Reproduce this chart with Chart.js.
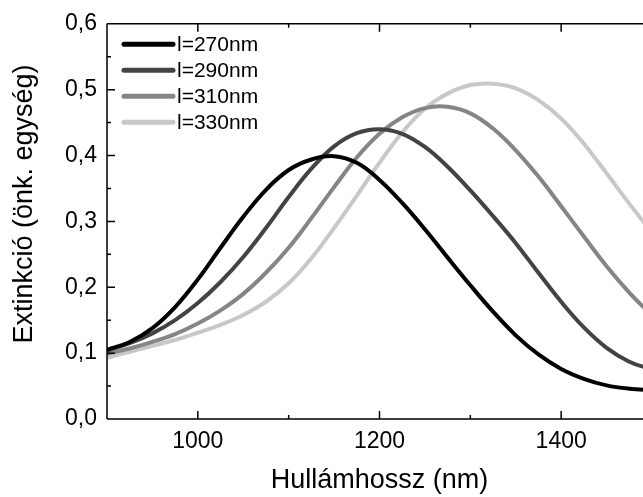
<!DOCTYPE html>
<html>
<head>
<meta charset="utf-8">
<script src="https://cdn.jsdelivr.net/npm/chart.js@4.4.1/dist/chart.umd.min.js"></script>
<style>
	html, body { margin: 0; padding: 0; overflow: hidden; background: #fff; }
	canvas { display: block; }
</style>
</head>
<body>
<canvas id="extinction_chart" width="652" height="497"></canvas>
<script>
'use strict';

// wavelength (nm), every 25 nm
var wavelengths = [900, 925, 950, 975, 1000, 1025, 1050, 1075, 1100, 1125, 1150, 1175, 1200,
	1225, 1250, 1275, 1300, 1325, 1350, 1375, 1400, 1425, 1450, 1475, 1500];

// extinction
var ext_270 = [0.105, 0.117, 0.138, 0.170, 0.212, 0.260, 0.307, 0.348, 0.378, 0.394, 0.399, 0.389, 0.363,
	0.328, 0.288, 0.245, 0.203, 0.163, 0.127, 0.098, 0.076, 0.061, 0.051, 0.046, 0.044];
var ext_290 = [0.104, 0.115, 0.130, 0.150, 0.176, 0.208, 0.246, 0.290, 0.337, 0.380, 0.414, 0.434, 0.440,
	0.433, 0.413, 0.383, 0.347, 0.308, 0.267, 0.222, 0.178, 0.139, 0.108, 0.087, 0.075];
var ext_310 = [0.099, 0.107, 0.117, 0.129, 0.145, 0.165, 0.190, 0.222, 0.260, 0.305, 0.352, 0.397, 0.433,
	0.458, 0.472, 0.474, 0.464, 0.441, 0.408, 0.368, 0.323, 0.277, 0.232, 0.192, 0.157];
var ext_330 = [0.093, 0.102, 0.111, 0.120, 0.131, 0.143, 0.158, 0.178, 0.206, 0.244, 0.290, 0.339, 0.389,
	0.435, 0.471, 0.494, 0.507, 0.509, 0.502, 0.484, 0.456, 0.418, 0.373, 0.327, 0.283];

var series_labels = ["l=270nm", "l=290nm", "l=310nm", "l=330nm"];

// axis ticks
var x_ticks = [1000, 1200, 1400];
var x_minor = [900, 1100, 1300];
var y_ticks = [0, 0.1, 0.2, 0.3, 0.4, 0.5, 0.6];
var y_minor = [0.05, 0.15, 0.25, 0.35, 0.45, 0.55];

(function(){

	var FONT = '"Liberation Sans", Arial, sans-serif';
	var Y_TITLE = 'Extinkció (önk. egység)';

	var to_points = function(values){
		return wavelengths.map(function(w, i){ return {x: w, y: values[i]}; });
	};

	var make_dataset = function(label, values, color){
		return {
			label: label,
			data: to_points(values),
			borderColor: color,
			borderWidth: 4,
			pointRadius: 0,
			fill: false,
			tension: 0.4
		};
	};

	// frame + inward ticks, like the origin plot
	var frame_ticks = {
		id: 'frame_ticks',
		afterDraw: function(chart){
			var ctx = chart.ctx, a = chart.chartArea;
			var xs = chart.scales.x, ys = chart.scales.y;
			ctx.save();
			ctx.strokeStyle = '#000';
			ctx.lineWidth = 1.5;
			ctx.beginPath();
			ctx.moveTo(a.left, a.top); ctx.lineTo(a.right, a.top);
			ctx.moveTo(a.left, a.top); ctx.lineTo(a.left, a.bottom);
			ctx.moveTo(a.left, a.bottom); ctx.lineTo(a.right, a.bottom);

			var xtick = function(v, len){
				var px = xs.getPixelForValue(v);
				ctx.moveTo(px, a.bottom); ctx.lineTo(px, a.bottom - len);
				ctx.moveTo(px, a.top); ctx.lineTo(px, a.top + len);
			};
			var ytick = function(v, len){
				var py = ys.getPixelForValue(v);
				ctx.moveTo(a.left, py); ctx.lineTo(a.left + len, py);
			};
			x_ticks.forEach(function(v){ xtick(v, 8); });
			x_minor.forEach(function(v){ xtick(v, 4); });
			y_ticks.forEach(function(v){ ytick(v, 8); });
			y_minor.forEach(function(v){ ytick(v, 4); });
			ctx.stroke();

			// y title, sits a bit above the middle of the axis in the original
			ctx.fillStyle = '#000';
			ctx.font = '27px ' + FONT;
			ctx.textAlign = 'center';
			ctx.textBaseline = 'middle';
			ctx.translate(25, 204);
			ctx.rotate(-Math.PI / 2);
			ctx.fillText(Y_TITLE, 0, 0);
			ctx.restore();
		}
	};

	// legend sitting inside the plot, top left
	var inside_legend = {
		id: 'inside_legend',
		afterDraw: function(chart){
			var ctx = chart.ctx, a = chart.chartArea;
			ctx.save();
			ctx.font = '21px ' + FONT;
			ctx.textBaseline = 'middle';
			ctx.lineCap = 'round';
			chart.data.datasets.forEach(function(ds, i){
				var y = a.top + 20.5 + i * 26;
				var x = a.left + 17;
				ctx.strokeStyle = ds.borderColor;
				ctx.lineWidth = 5;
				ctx.beginPath();
				ctx.moveTo(x, y); ctx.lineTo(x + 49, y);
				ctx.stroke();
				ctx.fillStyle = '#000';
				ctx.fillText(ds.label, x + 53, y + 1);
			});
			ctx.restore();
		}
	};

	var ctx = document.getElementById('extinction_chart').getContext('2d');

	new Chart(ctx, {
		type: 'line',
		data: {
			datasets: [
				make_dataset(series_labels[0], ext_270, '#000000'),
				make_dataset(series_labels[1], ext_290, '#434343'),
				make_dataset(series_labels[2], ext_310, '#858585'),
				make_dataset(series_labels[3], ext_330, '#c8c8c8')
			]
		},
		options: {
			responsive: false,
			animation: false,
			layout: { padding: { top: 18, right: 0, bottom: 0, left: 0 } },
			plugins: {
				legend: { display: false },
				tooltip: { enabled: false }
			},
			scales: {
				x: {
					type: 'linear',
					min: 900,
					max: 1500,
					grid: { display: false, drawTicks: false },
					border: { display: false },
					afterBuildTicks: function(scale){
						scale.ticks = x_ticks.map(function(v){ return {value: v}; });
					},
					afterFit: function(scale){ scale.height = 78; },
					ticks: {
						color: '#000',
						padding: 9,
						maxRotation: 0,
						font: { family: FONT, size: 23 },
						callback: function(v){ return String(v); }
					},
					title: {
						display: true,
						text: 'Hullámhossz (nm)',
						color: '#000',
						font: { family: FONT, size: 27, lineHeight: 1.2 },
						padding: { top: 0, bottom: 0 }
					}
				},
				y: {
					min: 0,
					max: 0.6,
					grid: { display: false, drawTicks: false },
					border: { display: false },
					afterBuildTicks: function(scale){
						scale.ticks = y_ticks.map(function(v){ return {value: v}; });
					},
					afterFit: function(scale){ scale.width = 107; },
					ticks: {
						color: '#000',
						padding: 10,
						font: { family: FONT, size: 23 },
						callback: function(v){ return v.toFixed(1).replace('.', ','); }
					}
				}
			}
		},
		plugins: [frame_ticks, inside_legend]
	});

})();
</script>
</body>
</html>
